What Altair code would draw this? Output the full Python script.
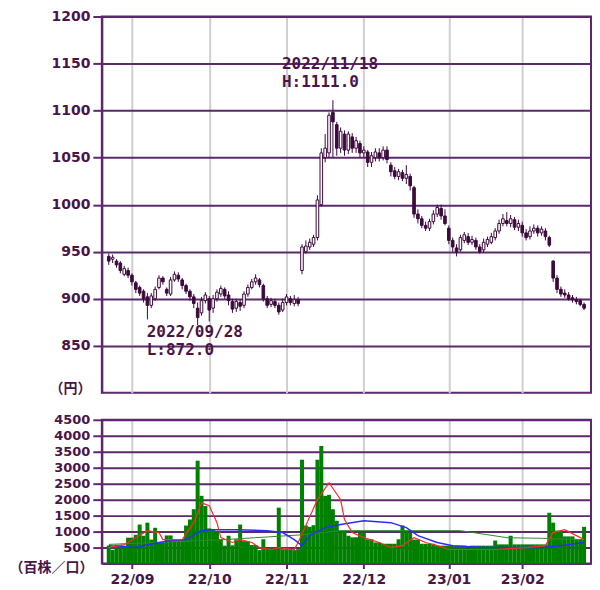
import altair as alt
import pandas as pd

# ---- trading calendar (Tokyo) ----
holidays = ["2022-09-19", "2022-09-23", "2022-10-10", "2022-11-03", "2022-11-23",
            "2023-01-02", "2023-01-03", "2023-01-09", "2023-02-23"]
days = [d for d in pd.bdate_range("2022-08-24", "2023-02-24")
        if d.strftime("%Y-%m-%d") not in holidays]
dates = [d.strftime("%Y/%m/%d") for d in days]

# ---- prices (円) ----
opens = [945, 942, 940, 938, 926, 930, 925, 917, 912, 908,
         902, 893, 900, 912, 922, 910, 905, 920, 925, 920,
         914, 908, 902, 890, 885, 898, 900, 890, 900, 905,
         910, 904, 897, 890, 896, 893, 905, 912, 918, 920,
         914, 900, 894, 897, 893, 888, 896, 900, 895, 899,
         930, 950, 955, 958, 965, 1000, 1050, 1055, 1098, 1085,
         1060, 1075, 1058, 1072, 1060, 1065, 1055, 1056, 1045, 1050,
         1055, 1050, 1058, 1042, 1036, 1030, 1034, 1028, 1030, 1018,
         990, 985, 978, 975, 982, 990, 996, 988, 975, 962,
         954, 952, 962, 966, 960, 962, 955, 952, 958, 960,
         965, 972, 980, 983, 980, 984, 976, 978, 970, 966,
         972, 975, 970, 972, 965, 940, 922, 910, 906, 904,
         901, 899, 898, 894]
closes = [940, 944, 936, 930, 932, 925, 918, 910, 906, 900,
          893, 903, 910, 922, 918, 906, 920, 926, 921, 914,
          908, 902, 895, 880, 898, 904, 888, 900, 907, 911,
          903, 898, 889, 897, 892, 905, 912, 918, 922, 915,
          900, 893, 898, 893, 886, 896, 902, 896, 899, 895,
          955, 956, 960, 965, 1005, 1055, 1060, 1095, 1088, 1060,
          1078, 1058, 1075, 1060, 1068, 1055, 1058, 1045, 1052, 1056,
          1050, 1058, 1048, 1035, 1030, 1035, 1028, 1032, 1020, 990,
          985, 978, 975, 982, 990, 997, 988, 980, 962, 955,
          950, 965, 968, 960, 963, 955, 950, 960, 963, 966,
          972, 980, 985, 980, 985, 976, 980, 970, 965, 972,
          975, 970, 974, 966, 957, 922, 910, 905, 904, 900,
          899, 897, 894, 890]
highs = [948, 947, 942, 940, 935, 933, 927, 919, 914, 910,
         906, 906, 913, 925, 924, 912, 923, 929, 928, 922,
         916, 910, 905, 896, 902, 907, 903, 904, 910, 914,
         912, 908, 900, 900, 899, 908, 915, 921, 926, 922,
         916, 903, 901, 900, 896, 900, 905, 903, 904, 902,
         958, 962, 964, 968, 1010, 1060, 1075, 1098, 1111, 1088,
         1082, 1079, 1078, 1076, 1072, 1068, 1062, 1058, 1056, 1060,
         1060, 1062, 1062, 1045, 1040, 1038, 1037, 1042, 1033, 1020,
         995, 988, 982, 985, 994, 1000, 1000, 995, 978, 965,
         958, 968, 971, 970, 967, 965, 958, 964, 966, 970,
         975, 984, 990, 992, 989, 987, 984, 982, 974, 977,
         979, 978, 977, 975, 967, 941, 925, 913, 910, 907,
         904, 902, 900, 896]
lows = [936, 938, 933, 927, 924, 922, 914, 906, 903, 896,
        878, 890, 898, 910, 915, 903, 903, 918, 918, 910,
        905, 898, 890, 872, 882, 895, 876, 885, 897, 902,
        900, 893, 885, 886, 887, 890, 902, 910, 915, 912,
        897, 890, 891, 890, 883, 886, 893, 893, 892, 892,
        926, 948, 952, 955, 962, 998, 1045, 1050, 1050, 1052,
        1055, 1052, 1054, 1055, 1055, 1050, 1050, 1040, 1040, 1046,
        1046, 1047, 1044, 1030, 1027, 1026, 1025, 1022, 1015, 986,
        980, 975, 972, 972, 979, 987, 984, 978, 958, 950,
        945, 950, 959, 957, 957, 952, 948, 949, 955, 958,
        962, 969, 977, 977, 976, 973, 972, 966, 962, 963,
        969, 966, 967, 962, 955, 918, 906, 902, 901, 898,
        896, 894, 892, 888]

# ---- volume (百株) ----
volumes = [560, 430, 590, 590, 560, 810, 810, 900, 1220, 870,
           1280, 750, 1120, 650, 650, 880, 880, 760, 760, 760,
           1190, 1380, 1700, 3220, 2120, 1800, 1100, 1050, 1000, 760,
           560, 870, 570, 760, 1220, 700, 700, 580, 580, 420,
           760, 500, 500, 500, 1750, 450, 450, 450, 420, 450,
           3250, 1190, 1150, 1200, 3250, 3680, 2120, 2150, 1700, 1340,
           1030, 1030, 870, 820, 820, 970, 970, 760, 760, 660,
           660, 620, 620, 620, 620, 760, 1190, 1030, 970, 750,
           750, 620, 620, 620, 620, 560, 560, 560, 560, 560,
           560, 560, 560, 470, 560, 560, 560, 560, 560, 560,
           720, 600, 600, 600, 870, 600, 600, 600, 600, 600,
           600, 600, 600, 600, 1590, 1280, 1030, 1030, 850, 850,
           850, 750, 750, 1150]

# ---- volume moving averages ----
ma5_idx = [0, 4, 8, 10, 13, 14, 17, 19, 22, 24, 26, 28, 29, 32, 34, 37, 39, 42, 44, 48,
           49, 51, 54, 57, 60, 61, 63, 66, 70, 73, 76, 79, 82, 85, 88, 93, 100, 108, 113,
           115, 118, 121, 123]
ma5_val = [500, 594, 875, 1030, 970, 750, 750, 750, 1280, 1900, 1810, 1280, 810, 660, 750,
           660, 500, 440, 500, 440, 660, 1190, 2000, 2530, 2000, 1375, 970, 810, 660, 500,
           560, 810, 660, 560, 440, 440, 440, 500, 560, 970, 1060, 875, 750]
ma25_idx = [0, 7, 10, 16, 20, 24, 26, 33, 41, 45, 48, 50, 52, 56, 60, 66, 73, 77, 80, 85,
            89, 97, 104, 112, 117, 123]
ma25_val = [560, 500, 590, 720, 750, 1030, 1060, 1060, 1030, 970, 750, 560, 875, 1125, 1220,
            1340, 1280, 1125, 875, 660, 560, 500, 500, 500, 560, 660]
ma75_idx = [0, 30, 50, 60, 74, 91, 103, 112, 123]
ma75_val = [600, 750, 900, 1030, 1030, 1030, 810, 790, 750]

PURPLE = "#5b2a6b"
TEXT = "#4a1448"
CANDLE = "#3c0a3c"
GRAY = "#cfcfcf"
W = 490

N = len(dates)
df = pd.DataFrame({"i": list(range(N)), "date": dates, "open": opens, "high": highs,
                   "low": lows, "close": closes, "vol": volumes})

month_idx = [k for k in range(1, N) if days[k].month != days[k - 1].month]
month_lab = [days[k].strftime("%y/%m") for k in month_idx]
label_expr = "".join(f"datum.value == {k} ? '{l}' : " for k, l in zip(month_idx, month_lab)) + "''"

xscale = alt.Scale(domain=[-0.5, N - 0.5], nice=False, zero=False)

# ---------------- price panel ----------------
base = alt.Chart(df)
x_top = alt.X("i:Q", scale=xscale,
              axis=alt.Axis(values=month_idx, tickCount=20, labels=False, ticks=False,
                            domain=False, grid=True, gridColor=GRAY, gridWidth=2, title=None))
y_top = alt.Y("low:Q", scale=alt.Scale(domain=[800, 1200], nice=False, zero=False),
              axis=alt.Axis(values=list(range(850, 1201, 50)), tickCount=20, format="d",
                            labelOverlap=False, grid=True, gridColor=PURPLE,
                            gridWidth=2, domainColor=PURPLE, domainWidth=2, tickColor=PURPLE,
                            tickWidth=2, tickSize=9, labelFont="DejaVu Sans",
                            labelFontWeight="bold", labelFontSize=14, labelColor=TEXT,
                            labelPadding=3, title="（円）", titleAngle=0, titleAlign="right",
                            titleBaseline="middle", titleX=-11, titleY=373,
                            titleFont="Noto Sans CJK JP", titleFontWeight="bold",
                            titleFontSize=14, titleColor=TEXT))

wick = base.mark_rule(color=CANDLE, strokeWidth=1).encode(x=x_top, y=y_top, y2="high:Q")
body = base.mark_bar(size=2.6, stroke=CANDLE, strokeWidth=1).encode(
    x="i:Q", y="open:Q", y2="close:Q",
    fill=alt.condition("datum.close >= datum.open", alt.value("white"), alt.value(CANDLE)))

hi_i = highs.index(max(highs))
lo_i = lows.index(min(lows))
hi_df = pd.DataFrame({"i": [hi_i], "p": [highs[hi_i]], "l1": [dates[hi_i]],
                      "l2": ["H:%.1f" % highs[hi_i]]})
lo_df = pd.DataFrame({"i": [lo_i], "p": [lows[lo_i]], "l1": [dates[lo_i]],
                      "l2": ["L:%.1f" % lows[lo_i]]})


def ann(d, field, dy):
    return alt.Chart(d).mark_text(align="left", baseline="middle", dx=-51, dy=dy,
                                  font="DejaVu Sans Mono", fontSize=16, fontWeight="bold",
                                  color=TEXT).encode(x="i:Q", y="p:Q", text=f"{field}:N")


top = alt.layer(wick, body, ann(hi_df, "l1", -36), ann(hi_df, "l2", -18),
                ann(lo_df, "l1", 7), ann(lo_df, "l2", 25)).properties(width=W, height=377)

# ---------------- volume panel ----------------
x_bot = alt.X("i:Q", scale=xscale,
              axis=alt.Axis(values=month_idx, tickCount=20, labelExpr=label_expr,
                            labelOverlap=False, grid=True, gridColor=GRAY,
                            gridWidth=2, domainColor=PURPLE, domainWidth=2, tickColor=PURPLE,
                            tickWidth=2, tickSize=5, labelFont="DejaVu Sans",
                            labelFontWeight="bold", labelFontSize=14, labelColor=TEXT,
                            labelPadding=4, title=None))
y_bot = alt.Y("vol:Q", scale=alt.Scale(domain=[0, 4500], nice=False),
              axis=alt.Axis(values=list(range(500, 4501, 500)), tickCount=20, format="d",
                            labelOverlap=False, grid=True, gridColor=PURPLE,
                            gridWidth=2, domainColor=PURPLE, domainWidth=2, tickColor=PURPLE,
                            tickWidth=2, tickSize=9, labelFont="DejaVu Sans",
                            labelFontWeight="bold", labelFontSize=13, labelColor=TEXT,
                            labelPadding=3, title="（百株／口）", titleAngle=0,
                            titleAlign="right", titleBaseline="middle", titleX=-9, titleY=148,
                            titleFont="Noto Sans CJK JP", titleFontWeight="bold",
                            titleFontSize=14, titleColor=TEXT))

vbars = alt.Chart(df).mark_bar(size=4, color="#008000").encode(x=x_bot, y=y_bot)


def ma_line(idx, val, color, w):
    d = pd.DataFrame({"i": idx, "v": val})
    return alt.Chart(d).mark_line(color=color, strokeWidth=w).encode(x="i:Q", y="v:Q")


bottom = alt.layer(vbars,
                   ma_line(ma75_idx, ma75_val, "#2e8b2e", 1),
                   ma_line(ma25_idx, ma25_val, "#2b2bff", 1.5),
                   ma_line(ma5_idx, ma5_val, "#ff2a2a", 1.2)).properties(width=W, height=144)

chart = alt.vconcat(top, bottom, spacing=16).properties(
    padding={"left": 0, "top": 0, "right": 0, "bottom": 0}, background="white"
).configure_view(stroke=PURPLE, strokeWidth=2)

chart.save("out.html", embed_options={"renderer": "svg", "actions": False})
